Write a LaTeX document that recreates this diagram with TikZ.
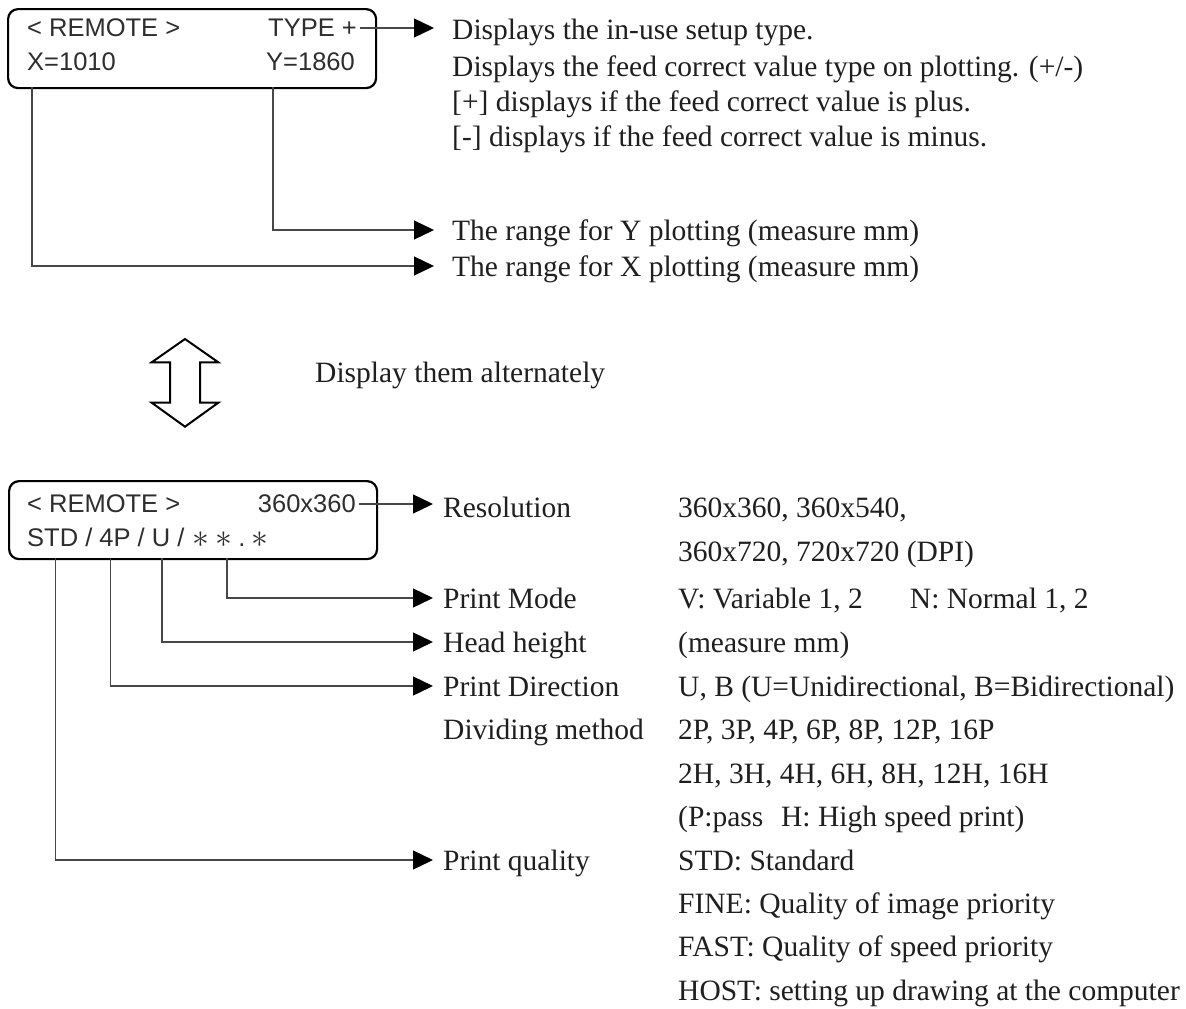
\documentclass[tikz,border=0pt]{standalone}
\usepackage{fontspec}
\usepackage{graphicx}
\setmainfont{Liberation Serif}
\newfontfamily\lcdfont{Liberation Sans}
\usetikzlibrary{arrows.meta}
\begin{document}
\begin{tikzpicture}[x=1pt,y=-1pt,
  lcd/.style={font=\lcdfont\fontsize{25.5}{28}\selectfont, text=black!82, inner ysep=0pt, inner xsep=3pt},
  desc/.style={font=\fontsize{29.5}{34}\selectfont, inner sep=0pt, anchor=base west, text=black!88},
  panel/.style={draw=black, line width=2.2pt, rounded corners=10pt, inner sep=0pt},
  conn/.style={draw=black!72, line width=1.3pt, -{Triangle[length=20pt,width=19pt,fill=black,color=black]}},
]
\newcommand{\lcdstar}{\raisebox{-1.5pt}{\scalebox{1.35}{$\ast$}}}
\fill[white] (0,0) rectangle (1186,1009);
\useasboundingbox (0,0) rectangle (1186,1009);

% ---------- top display ----------
\node[panel, minimum width=368pt, minimum height=79pt, anchor=north west] (box1) at (7,8) {};
\node[lcd, anchor=west] (t1a) at (24,28) {< REMOTE >};
\node[lcd, anchor=east] (t1b) at (360,28) {TYPE +};
\node[lcd, anchor=west] (t1c) at (24,62) {X=1010};
\node[lcd, anchor=east] (t1d) at (358,62) {Y=1860};

\node[desc] (d1) at (452,39) {Displays the in-use setup type.};
\node[desc] (d2) at (452,76) {Displays the feed correct value type on plotting. (+/-)};
\node[desc] (d3) at (452,111) {[+] displays if the feed correct value is plus.};
\node[desc] (d4) at (452,146) {[-] displays if the feed correct value is minus.};
\node[desc] (dY) at (452,240) {The range for Y plotting (measure mm)};
\node[desc] (dX) at (452,276) {The range for X plotting (measure mm)};

\coordinate (cx) at (32,87);
\coordinate (cy) at (273,87);
\draw[conn, shorten >=18pt] (t1b.east) -- (t1b.east -| d1.west);
\draw[conn, shorten >=18pt] (cy) |- ([yshift=10pt]dY.base west);
\draw[conn, shorten >=18pt] (cx) |- ([yshift=10pt]dX.base west);

% ---------- double arrow ----------
\draw[line width=2pt, line join=miter]
  (185,339) -- (218.3,362.3) -- (200,362.3) -- (200,402.7) -- (218.3,402.7)
  -- (185,426.7) -- (151.7,402.7) -- (170,402.7) -- (170,362.3) -- (151.7,362.3) -- cycle;
\node[desc] (alt) at (315,382) {Display them alternately};

% ---------- bottom display ----------
\node[panel, minimum width=368pt, minimum height=78pt, anchor=north west] (box2) at (8,480) {};
\node[lcd, anchor=west] (t2a) at (24,504) {< REMOTE >};
\node[lcd, anchor=east] (t2b) at (359,504) {360x360};
\node[lcd, anchor=west] (t2c) at (24,538) {STD / 4P / U /\hspace{0.3em}\lcdstar\hspace{0.25em}\lcdstar\hspace{0.25em}.\hspace{0.25em}\lcdstar};

\node[desc] (r1) at (443,517) {Resolution};
\node[desc] (r2) at (443,608) {Print Mode};
\node[desc] (r3) at (443,652) {Head height};
\node[desc] (r4) at (443,696) {Print Direction};
\node[desc] (r5) at (443,739) {Dividing method};
\node[desc] (r6) at (443,870) {Print quality};

\node[desc] (v1) at (678,517) {360x360, 360x540,};
\node[desc] (v2) at (678,561) {360x720, 720x720 (DPI)};
\node[desc] (v3) at (678,608) {V: Variable 1, 2\hspace{1.6em}N: Normal 1, 2};
\node[desc] (v4) at (678,652) {(measure mm)};
\node[desc] (v5) at (678,696) {U, B (U=Unidirectional, B=Bidirectional)};
\node[desc] (v6) at (678,739) {2P, 3P, 4P, 6P, 8P, 12P, 16P};
\node[desc] (v7) at (678,783) {2H, 3H, 4H, 6H, 8H, 12H, 16H};
\node[desc] (v8) at (678,826) {(P:pass\hspace{0.6em}H: High speed print)};
\node[desc] (v9) at (678,870) {STD: Standard};
\node[desc] (v10) at (678,913) {FINE: Quality of image priority};
\node[desc] (v11) at (678,956) {FAST: Quality of speed priority};
\node[desc] (v12) at (678,1000) {HOST: setting up drawing at the computer};

\coordinate (cstd) at (55.7,558);
\coordinate (c4p) at (110.7,558);
\coordinate (cu) at (162,558);
\coordinate (cast) at (227,558);
\draw[conn, shorten >=10pt] (t2b.east) -- (t2b.east -| r1.west);
\draw[conn, shorten >=10pt] (cast) |- ([yshift=10pt]r2.base west);
\draw[conn, shorten >=10pt] (cu) |- ([yshift=10pt]r3.base west);
\draw[conn, shorten >=10pt] (c4p) |- ([yshift=10pt]r4.base west);
\draw[conn, shorten >=10pt] (cstd) |- ([yshift=10pt]r6.base west);
\end{tikzpicture}
\end{document}
